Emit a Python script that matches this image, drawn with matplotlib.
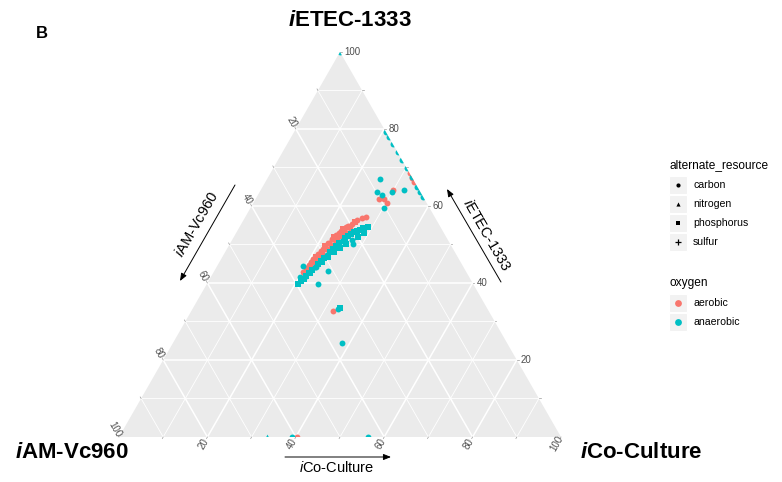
import numpy as np
import matplotlib
matplotlib.use("Agg")
import matplotlib.pyplot as plt
from matplotlib.patches import Polygon, Rectangle

plt.rcParams["font.family"] = ["Liberation Sans", "DejaVu Sans"]
plt.rcParams["mathtext.fontset"] = "custom"
plt.rcParams["mathtext.rm"] = "Liberation Sans"
plt.rcParams["mathtext.it"] = "Liberation Sans:italic"
plt.rcParams["mathtext.bf"] = "Liberation Sans:bold"
try:
    plt.rcParams["mathtext.bfit"] = "Liberation Sans:bold:italic"
    BFIT = r"$\mathbfit{i}$"
except KeyError:
    BFIT = r"$\mathit{i}$"

# ---------------- data (percent composition: T = iETEC-1333, L = iAM-Vc960, R = iCo-Culture)
aerobic_T = [42.9, 43.9, 44.7, 45.5, 46.2, 46.8, 47.5, 48.3, 48.8, 49.6,
             50.4, 50.9, 51.4, 51.9, 52.5, 53.0, 53.5, 54.0, 54.5, 54.8,
             54.3, 53.2, 52.2, 51.2, 49.9, 48.8, 47.8, 46.5, 45.5, 44.4,
             43.4, 42.3, 55.3, 55.8, 56.4, 56.9, 57.1, 52.2, 50.6, 49.4,
             47.0, 64.2, 61.7, 61.7, 60.9, 32.8, 68.5, 67.2, 66.3, 0.0]
aerobic_R = [20.2, 20.4, 20.6, 20.7, 20.8, 21.2, 21.3, 21.6, 21.8, 21.8,
             22.1, 22.3, 22.5, 22.7, 22.9, 23.3, 23.5, 23.7, 24.2, 24.4,
             25.2, 24.5, 23.9, 23.3, 22.8, 22.4, 22.0, 21.8, 21.4, 21.0,
             20.8, 21.0, 25.1, 25.5, 25.6, 26.6, 27.4, 24.8, 24.0, 23.3,
             22.0, 29.8, 27.9, 29.0, 30.2, 32.1, 31.5, 32.8, 33.7, 40.2]
aerobic_L = [36.9, 35.7, 34.7, 33.8, 33.0, 32.0, 31.2, 30.1, 29.4, 28.6,
             27.5, 26.8, 26.1, 25.4, 24.6, 23.7, 23.0, 22.3, 21.3, 20.8,
             20.5, 22.3, 23.9, 25.5, 27.3, 28.8, 30.2, 31.7, 33.1, 34.6,
             35.8, 36.7, 19.6, 18.7, 18.0, 16.5, 15.5, 23.0, 25.4, 27.3,
             31.0, 6.0, 10.4, 9.3, 8.9, 35.1, 0.0, 0.0, 0.0, 59.8]
aerobic_resource = ["carbon", "carbon", "carbon", "carbon", "carbon", "phosphorus", "carbon", "carbon", "carbon", "phosphorus",
                    "carbon", "nitrogen", "carbon", "phosphorus", "carbon", "carbon", "carbon", "phosphorus", "carbon", "carbon",
                    "carbon", "carbon", "phosphorus", "carbon", "nitrogen", "carbon", "carbon", "phosphorus", "carbon", "sulfur",
                    "carbon", "carbon", "carbon", "phosphorus", "carbon", "carbon", "carbon", "carbon", "phosphorus", "carbon",
                    "carbon", "carbon", "carbon", "carbon", "carbon", "carbon", "carbon", "carbon", "carbon", "carbon"]

anaerobic_T = [39.7, 40.5, 41.3, 41.8, 42.6, 43.4, 44.2, 44.9, 45.7, 46.5,
               47.3, 48.1, 48.8, 49.6, 50.4, 50.9, 51.7, 52.2, 52.7, 53.2,
               53.5, 53.8, 54.3, 54.5, 53.0, 51.9, 51.2, 50.1, 49.1, 48.1,
               46.8, 45.5, 44.2, 42.6, 41.0, 41.6, 44.4, 50.1, 39.7, 43.1,
               66.9, 63.7, 62.9, 63.7, 64.2, 59.6, 33.4, 33.2, 24.3,
               79.3, 77.8, 76.0, 73.9, 71.9, 69.8, 67.5, 65.0, 63.7, 62.4,
               100.0, 0.0, 0.0, 0.0]
anaerobic_R = [20.7, 21.0, 21.2, 21.4, 21.7, 22.0, 22.2, 22.6, 22.9, 23.2,
               23.5, 23.7, 24.0, 24.3, 24.6, 25.0, 25.3, 25.7, 26.2, 26.6,
               27.1, 27.6, 28.1, 29.1, 28.9, 28.2, 27.1, 26.4, 25.5, 24.6,
               23.9, 23.2, 22.5, 21.9, 21.4, 20.2, 19.4, 27.9, 25.2, 25.8,
               25.6, 26.6, 28.0, 29.9, 32.4, 30.2, 33.3, 33.0, 38.3,
               20.7, 22.2, 24.0, 26.1, 28.1, 30.2, 32.5, 35.0, 36.3, 37.6,
               0.0, 33.4, 39.1, 56.4]
anaerobic_L = [39.6, 38.5, 37.5, 36.8, 35.7, 34.6, 33.6, 32.5, 31.4, 30.3,
               29.2, 28.2, 27.2, 26.1, 25.0, 24.1, 23.0, 22.1, 21.1, 20.2,
               19.4, 18.6, 17.6, 16.4, 18.1, 19.9, 21.7, 23.5, 25.4, 27.3,
               29.3, 31.3, 33.3, 35.5, 37.6, 38.2, 36.2, 22.0, 35.1, 31.1,
               7.5, 9.7, 9.1, 6.4, 3.4, 10.2, 33.3, 33.8, 37.4,
               0.0, 0.0, 0.0, 0.0, 0.0, 0.0, 0.0, 0.0, 0.0, 0.0,
               0.0, 66.6, 60.9, 43.6]
anaerobic_resource = ["phosphorus", "phosphorus", "carbon", "phosphorus", "phosphorus", "phosphorus", "carbon", "phosphorus", "phosphorus", "phosphorus",
                      "carbon", "phosphorus", "phosphorus", "phosphorus", "phosphorus", "carbon", "phosphorus", "phosphorus", "phosphorus", "phosphorus",
                      "phosphorus", "phosphorus", "phosphorus", "phosphorus", "phosphorus", "phosphorus", "carbon", "phosphorus", "phosphorus", "phosphorus",
                      "phosphorus", "phosphorus", "carbon", "phosphorus", "phosphorus", "carbon", "carbon", "carbon", "carbon", "carbon",
                      "carbon", "carbon", "carbon", "carbon", "carbon", "carbon", "phosphorus", "carbon", "carbon",
                      "carbon", "carbon", "carbon", "carbon", "carbon", "carbon", "carbon", "carbon", "carbon", "carbon",
                      "carbon", "nitrogen", "carbon", "carbon"]

resources = ["carbon", "nitrogen", "phosphorus", "sulfur"]
oxygen_levels = ["aerobic", "anaerobic"]
tick_values = [20, 40, 60, 80, 100]

# ---------------- styling
colors = {"aerobic": "#F8766D", "anaerobic": "#00BFC4"}
markers = {"carbon": "o", "nitrogen": "^", "phosphorus": "s", "sulfur": "+"}
msize = {"carbon": 18, "nitrogen": 18, "phosphorus": 22, "sulfur": 24}
panel_bg = "#EBEBEB"
tick_col = "#4D4D4D"
S3 = np.sqrt(3) / 2


def tern(t, l, r):
    """Ternary percentages -> cartesian (L at origin, R at (1,0), T on top)."""
    t = np.asarray(t, float) / 100.0
    r = np.asarray(r, float) / 100.0
    return r + t / 2.0, t * S3


W, H = 782, 482
fig = plt.figure(figsize=(W / 100, H / 100), dpi=100)
fig.patch.set_facecolor("white")

# triangle occupies x 119..561 px, y 437..52 px
ax = fig.add_axes([0, 0, 1, 1])
ax.set_xlim(-119 / 442, (W - 119) / 442)
ax.set_ylim((437 - H) / 444.6, 437 / 444.6)
ax.axis("off")

tri = Polygon([[0, 0], [1, 0], [0.5, S3]], closed=True, facecolor=panel_bg,
              edgecolor="none", zorder=0)
ax.add_patch(tri)

# grid lines
for v in range(10, 100, 10):
    lw = 1.1 if v % 20 == 0 else 0.6
    segs = [
        ((v, 100 - v, 0), (v, 0, 100 - v)),      # constant T
        ((100 - v, v, 0), (0, v, 100 - v)),      # constant L
        ((100 - v, 0, v), (0, 100 - v, v)),      # constant R
    ]
    for a, b in segs:
        xa, ya = tern(*a)
        xb, yb = tern(*b)
        ax.plot([xa, xb], [ya, yb], color="white", lw=lw, zorder=1,
                solid_capstyle="butt")

# ticks and tick labels
tlen = 0.004
tick_kw = dict(color="#9A9A9A", lw=0.5, zorder=1, clip_on=False)
for v in range(10, 101, 10):
    x, y = tern(v, 0, 100 - v)
    ax.plot([x, x + tlen], [y, y], **tick_kw)
    x2, y2 = tern(100 - v, v, 0)
    ax.plot([x2, x2 - 0.5 * tlen], [y2, y2 + S3 * tlen], **tick_kw)
    x3, y3 = tern(0, 100 - v, v)
    ax.plot([x3, x3 - 0.5 * tlen], [y3, y3 - S3 * tlen], **tick_kw)

for v in tick_values:
    x, y = tern(v, 0, 100 - v)
    ax.annotate(str(v), (x, y), xytext=(3.0, 0), textcoords="offset points",
                ha="left", va="center", fontsize=7, color=tick_col)
    x2, y2 = tern(100 - v, v, 0)
    ax.annotate(str(v), (x2, y2), xytext=(-3.0, 5.2), textcoords="offset points",
                ha="center", va="center", rotation=-60, rotation_mode="anchor",
                fontsize=7, color=tick_col)
    x3, y3 = tern(0, 100 - v, v)
    ax.annotate(str(v), (x3, y3), xytext=(-2.8, -5.0), textcoords="offset points",
                ha="center", va="center", rotation=60, rotation_mode="anchor",
                fontsize=7, color=tick_col)

# points
groups = [
    ("aerobic", aerobic_T, aerobic_L, aerobic_R, aerobic_resource),
    ("anaerobic", anaerobic_T, anaerobic_L, anaerobic_R, anaerobic_resource),
]
for ox, T, L, R, res in groups:
    T = np.array(T); L = np.array(L); R = np.array(R); res = np.array(res)
    for rname in resources:
        m = res == rname
        if not m.any():
            continue
        cx, cy = tern(T[m], L[m], R[m])
        kw = dict(marker=markers[rname], s=msize[rname], zorder=3)
        if rname == "sulfur":
            sc = ax.scatter(cx, cy, color=colors[ox], linewidths=1.0, **kw)
        else:
            sc = ax.scatter(cx, cy, color=colors[ox], linewidths=0, **kw)
        sc.set_clip_path(tri)

# ---------------- decorations in pixel space
ov = fig.add_axes([0, 0, 1, 1], facecolor="none")
ov.set_xlim(0, W)
ov.set_ylim(H, 0)
ov.axis("off")

ov.text(42, 33, "B", fontsize=12, fontweight="bold", ha="center", va="center")
ov.text(350, 20, BFIT + "ETEC-1333", fontsize=16, fontweight="bold",
        ha="center", va="center")
ov.text(15, 452, BFIT + "AM-Vc960", fontsize=16, fontweight="bold",
        ha="left", va="center")
ov.text(580, 452, BFIT + "Co-Culture", fontsize=16, fontweight="bold",
        ha="left", va="center")

arrow_kw = dict(arrowstyle="-|>,head_length=0.45,head_width=0.18",
                color="black", lw=0.7, shrinkA=0, shrinkB=0)
ov.annotate("", xy=(180, 281), xytext=(235, 185), arrowprops=arrow_kw)
ov.text(197, 224, r"$\mathit{i}$AM-Vc960", fontsize=10.5, rotation=60,
        rotation_mode="anchor", ha="center", va="center")
ov.annotate("", xy=(447, 189), xytext=(501, 282), arrowprops=arrow_kw)
ov.text(487, 235, r"$\mathit{i}$ETEC-1333", fontsize=10.5, rotation=-60,
        rotation_mode="anchor", ha="center", va="center")
ov.annotate("", xy=(391, 457), xytext=(285, 457), arrowprops=arrow_kw)
ov.text(337, 468, r"$\mathit{i}$Co-Culture", fontsize=10.5,
        ha="center", va="center")

# legend: alternate_resource
ov.text(669, 165, "alternate_resource", fontsize=8.6, ha="left", va="center")
for i, rname in enumerate(resources):
    yc = 185 + i * 19.1
    ov.add_patch(Rectangle((669, yc - 9), 18, 18, facecolor="#F2F2F2", edgecolor="white", lw=0.8))
    ov.scatter([678], [yc], marker=markers[rname], s=9 if rname != "sulfur" else 24,
               color="black", linewidths=0.9 if rname == "sulfur" else 0)
    ov.text(693, yc, rname, fontsize=7.6, ha="left", va="center")

# legend: oxygen
ov.text(669, 283, "oxygen", fontsize=8.6, ha="left", va="center")
for i, ox in enumerate(oxygen_levels):
    yc = 303 + i * 19.1
    ov.add_patch(Rectangle((669, yc - 9), 18, 18, facecolor="#F2F2F2", edgecolor="white", lw=0.8))
    ov.scatter([678], [yc], marker="o", s=24, color=colors[ox], linewidths=0)
    ov.text(693, yc, ox, fontsize=7.6, ha="left", va="center")

fig.savefig("out.png", dpi=100)
